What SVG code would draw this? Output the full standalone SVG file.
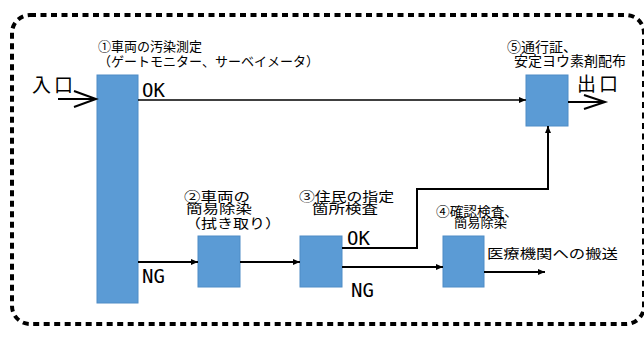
<svg xmlns="http://www.w3.org/2000/svg" width="644" height="338" viewBox="0 0 644 338">
<style>
.box{fill:#5B9BD5;stroke:#4F8CC6;stroke-width:1}
.lbl{font-family:"Noto Sans CJK JP","Noto Sans CJK SC",sans-serif;font-size:13px;fill:#000}
.big{font-family:"Noto Sans CJK JP","Noto Sans CJK SC",sans-serif;font-size:19px;fill:#000;letter-spacing:3px}
.lat{font-family:"DejaVu Sans Mono","Liberation Mono",monospace;font-size:19px;fill:#000}
.ln{fill:none;stroke:#000;stroke-width:2}
.thin{stroke-width:1.5}
.open{fill:none;stroke:#000;stroke-width:2;stroke-linejoin:miter}
</style>
<defs>
<marker id="ah" markerUnits="userSpaceOnUse" markerWidth="8" markerHeight="7" refX="7" refY="3" orient="auto">
<path d="M0,0 L7,3 L0,6 z" fill="#000"/>
</marker>
</defs>
<rect id="frame" x="12" y="15" width="632" height="309" rx="18" fill="none" stroke="#000" stroke-width="4" stroke-dasharray="6 4.5"/>
<g id="entry">
<text class="big" x="32" y="92">入口</text>
</g>
<g id="exit">
<text class="big" x="577" y="91">出口</text>
</g>
<g id="node1">
<rect class="box" x="97" y="75" width="41" height="228"/>
<text class="lbl" x="98" y="51">①車両の汚染測定</text>
<text class="lbl" x="98" y="66" textLength="221" lengthAdjust="spacingAndGlyphs">（ゲートモニター、サーベイメータ）</text>
</g>
<g id="node2">
<rect class="box" x="198" y="236" width="42" height="51"/>
<text class="lbl" x="184" y="201" textLength="66" lengthAdjust="spacingAndGlyphs">②車両の</text>
<text class="lbl" x="186" y="213" textLength="66" lengthAdjust="spacingAndGlyphs">簡易除染</text>
<text class="lbl" x="185" y="228" textLength="96" lengthAdjust="spacingAndGlyphs">（拭き取り）</text>
</g>
<g id="node3">
<rect class="box" x="300" y="236" width="42" height="51"/>
<text class="lbl" x="299" y="201" textLength="95" lengthAdjust="spacingAndGlyphs">③住民の指定</text>
<text class="lbl" x="312" y="213" textLength="66" lengthAdjust="spacingAndGlyphs">箇所検査</text>
</g>
<g id="node4">
<rect class="box" x="443" y="236" width="41" height="51"/>
<text class="lbl" x="436" y="216" textLength="82" lengthAdjust="spacingAndGlyphs">④確認検査、</text>
<text class="lbl" x="454" y="227" textLength="53" lengthAdjust="spacingAndGlyphs">簡易除染</text>
</g>
<g id="node5">
<rect class="box" x="526" y="75" width="42" height="51"/>
<text class="lbl" x="507" y="52" style="font-size:14px">⑤通行証、</text>
<text class="lbl" x="514" y="66" style="font-size:14px">安定ヨウ素剤配布</text>
</g>
<g id="hospital">
<text class="lbl" x="487" y="258" textLength="131" lengthAdjust="spacingAndGlyphs">医療機関への搬送</text>
</g>
<g id="connectors">
<line class="ln" x1="58" y1="99" x2="96" y2="99"/>
<polyline class="open" points="74,91 96,99 74,107"/>
<line class="ln thin" x1="138" y1="100" x2="526" y2="100" marker-end="url(#ah)"/>
<line class="ln" x1="568" y1="102" x2="605" y2="102"/>
<polyline class="open" points="584,95 605,102 584,109"/>
<line class="ln" x1="138" y1="262" x2="198" y2="262" marker-end="url(#ah)"/>
<line class="ln" x1="240" y1="262" x2="300" y2="262" marker-end="url(#ah)"/>
<polyline class="ln" points="342,248 417,248 417,189 548,189 548,126" marker-end="url(#ah)"/>
<line class="ln" x1="342" y1="267" x2="443" y2="267" marker-end="url(#ah)"/>
<line class="ln" x1="484" y1="272" x2="545" y2="272" marker-end="url(#ah)"/>
<text class="lat" x="142" y="97">OK</text>
<text class="lat" x="142" y="283">NG</text>
<text class="lat" x="347" y="245">OK</text>
<text class="lat" x="351" y="297">NG</text>
</g>
</svg>
